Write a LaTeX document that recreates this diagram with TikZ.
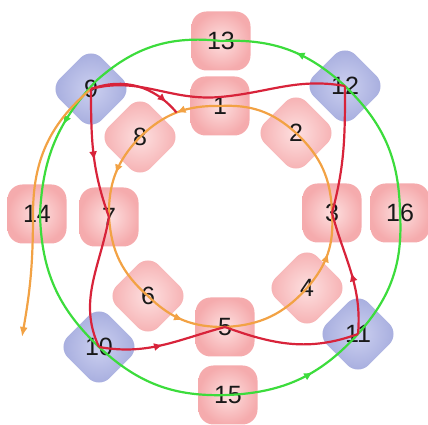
\documentclass[tikz,border=0pt]{standalone}
\usepackage{fontspec}
\setmainfont{Liberation Sans}
\usetikzlibrary{arrows.meta, decorations.markings}

\definecolor{pinkout}{HTML}{F5ABAD}
\definecolor{pinkin}{HTML}{FDE0E0}
\definecolor{blueout}{HTML}{A2A9DC}
\definecolor{bluein}{HTML}{CCD0F0}
\definecolor{ringgreen}{HTML}{3CDC3C}
\definecolor{linkred}{HTML}{D8233A}
\definecolor{ringorange}{HTML}{F2A244}

\begin{document}
\begin{tikzpicture}[
    x=1pt, y=1pt,
    box/.style={rectangle, rounded corners=15pt, minimum size=59pt, inner sep=0pt, shading=radial, inner color=pinkin, outer color=pinkout, text=black!90, font=\fontsize{25}{25}\selectfont},
    tiltbox/.style={box, rotate=45},
    hubbox/.style={box, rotate=45, inner color=bluein, outer color=blueout},
    midarrow/.style={postaction={decorate}, decoration={markings, mark=at position #1 with {\arrow{Latex[length=9pt,width=8pt]}}}},
    ring/.style={ringgreen, line width=2.2pt},
    inner/.style={ringorange, line width=2.2pt},
    link/.style={linkred, line width=2.2pt}
]
    \useasboundingbox (0,0) rectangle (428,425);

    \node[box] (n13) at (221,384) {13};
    \node[box] (n1) at (220,319) {1};
    \node[tiltbox] (n2) at (296,292) {\rotatebox{-45}{2}};
    \node[box] (n3) at (332,212) {3};
    \node[box] (n16) at (400,212) {16};
    \node[tiltbox] (n4) at (307,137) {\rotatebox{-45}{4}};
    \node[box] (n5) at (225,98) {5};
    \node[box] (n15) at (228,30) {15};
    \node[tiltbox] (n6) at (148,129) {\rotatebox{-45}{6}};
    \node[box] (n7) at (109,208) {7};
    \node[box] (n14) at (37,211) {14};
    \node[tiltbox] (n8) at (140,288) {\rotatebox{-45}{8}};
    \node[hubbox] (n9) at (91,336) {\rotatebox{-45}{9}};
    \node[hubbox] (n12) at (345,339) {\rotatebox{-45}{12}};
    \node[hubbox] (n11) at (358,91) {\rotatebox{-45}{11}};
    \node[hubbox] (n10) at (99,78) {\rotatebox{-45}{10}};
    \coordinate (exit) at (22,88);

    \draw[ring, midarrow=0.44] (n12.center) to[bend right=22.5] (n13.center);
    \draw[ring] (n13.center) to[bend right=24] ([shift={(5pt,8pt)}]n9.center);
    \draw[ring, midarrow=0.37] ([shift={(5pt,8pt)}]n9.center) to[bend right=20] ([xshift=3pt]n14.center);
    \draw[ring] ([xshift=3pt]n14.center) to[bend right=22.5] (n10.center) to[bend right=22.5] (n15.center);
    \draw[ring, midarrow=0.6] (n15.center) to[bend right=22.5] (n11.center);
    \draw[ring] (n11.center) to[bend right=22.5] (n16.center) to[bend right=22.5] (n12.center);

    \draw[inner, midarrow=0.5] (n1.center) to[bend right=22.5] node[coordinate, pos=0.5] (m18) {} (n8.center);
    \draw[inner, midarrow=0.5] (n8.center) to[bend right=22.5] (n7.center);
    \draw[inner] (n7.center) to[bend right=22.5] (n6.center);
    \draw[inner, midarrow=0.5] (n6.center) to[bend right=22.5] (n5.center);
    \draw[inner] (n5.center) to[bend right=22.5] (n4.center);
    \draw[inner, midarrow=0.5] (n4.center) to[bend right=22.5] (n3.center);
    \draw[inner] (n3.center) to[bend right=22.5] (n2.center) to[bend right=22.5] (n1.center);
    \draw[inner, -{Latex[length=10pt,width=8pt]}] (n9.center) to[out=220, in=90] ([xshift=-4pt]n14.center) to[out=-90, in=80] (exit);

    \draw[link, midarrow=0.55] (n9.center) to[out=-90, in=110] (n7.center);
    \draw[link] (n7.center) to[out=-100, in=115] (n10.center);
    \draw[link, midarrow=0.5] (n10.center) to[out=-10, in=195] (n5.center);
    \draw[link] (n5.center) to[out=-20, in=200] (n11.center);
    \draw[link, midarrow=0.5] (n11.center) to[out=85, in=-75] (n3.center);
    \draw[link] (n3.center) to[out=75, in=-90] (n12.center);
    \draw[link] (n12.center) to[out=170, in=5] ([yshift=9pt]n1.center) to[out=185, in=15] (n9.center);
    \draw[link, midarrow=0.85] (n9.center) to[out=20, in=130] (m18);
\end{tikzpicture}
\end{document}
